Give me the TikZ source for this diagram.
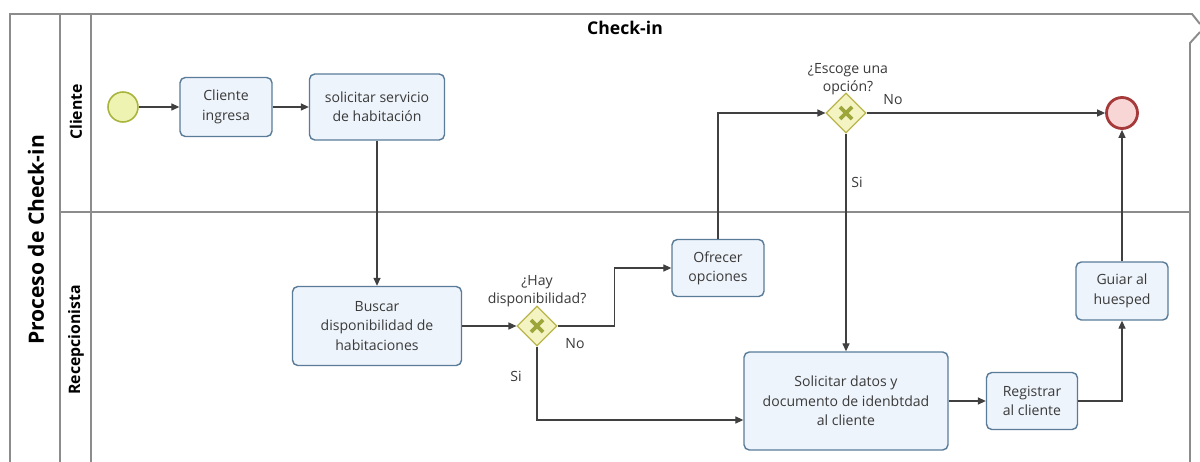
\documentclass[tikz,border=0pt]{standalone}
\usepackage{fontspec}
\setmainfont{Open Sans}
\usepackage{xcolor}
\usepackage{tikz}
\usetikzlibrary{arrows.meta,positioning,calc,shapes.geometric}
\definecolor{poolgray}{HTML}{8C8C8C}
\definecolor{flowgray}{HTML}{404040}
\definecolor{taskline}{HTML}{5A7C99}
\definecolor{taskfill}{HTML}{EEF4FB}
\definecolor{gwfill}{HTML}{F4F4C2}
\definecolor{gwline}{HTML}{B9B44C}
\definecolor{gwmark}{HTML}{9CA63A}
\definecolor{startfill}{HTML}{EEF3B2}
\definecolor{startline}{HTML}{A9B43C}
\definecolor{endfill}{HTML}{F9D6D6}
\definecolor{endline}{HTML}{A63A3A}
\definecolor{txtgray}{HTML}{3A3A3A}
\tikzset{
  task/.style={draw=taskline,fill=taskfill,rounded corners=3pt,line width=0.8pt,
    align=center,text=txtgray,font=\fontsize{8}{11}\selectfont,inner sep=2pt},
  gateway/.style={diamond,draw=gwline,fill=gwfill,line width=0.7pt,inner sep=0pt,
    minimum width=0.8cm,minimum height=0.8cm},
  flow/.style={draw=flowgray,line width=0.6pt,-{Triangle[length=4.5pt,width=4pt]}},
  lbl/.style={text=txtgray,font=\fontsize{8}{10}\selectfont,align=center},
  pool/.style={draw=poolgray,line width=1.1pt}
}

\begin{document}
\begin{tikzpicture}[x=0.02cm,y=-0.02cm]
  \useasboundingbox[fill=white] (0,0) rectangle (1200,462);
  % pool and lanes
  \draw[pool] (10,462) -- (10,14) -- (1192,14) -- (1200,24);
  \draw[pool] (1190,462) -- (1190,43) -- (1200,32);
  \draw[pool] (60,14) -- (60,462);
  \draw[pool] (91,14) -- (91,462);
  \draw[pool] (60,212) -- (1190,212);
  \node[rotate=90,font=\fontsize{12}{14}\selectfont\bfseries] (pooltitle) at (36,240) {Proceso de Check-in};
  \node[rotate=90,font=\fontsize{9}{11}\selectfont\bfseries] (laneclient) at (76,112) {Cliente};
  \node[rotate=90,font=\fontsize{9}{11}\selectfont\bfseries] (lanerecep) at (76,340) {Recepcionista};
  \node[font=\fontsize{10}{12}\selectfont\bfseries] (grouptitle) at (625,28) {Check-in};
  % events
  \node[circle,draw=startline,fill=startfill,line width=0.9pt,minimum size=0.6cm] (start) at (123,107) {};
  \node[circle,draw=endline,fill=endfill,line width=1.6pt,minimum size=0.62cm] (finish) at (1122,113) {};
  % tasks
  \node[task,minimum width=1.84cm,minimum height=1.18cm] (ingresa) at (226,107) {Cliente\\ingresa};
  \node[task,minimum width=2.7cm,minimum height=1.32cm] (servicio) at (377,107) {solicitar servicio\\de habitación};
  \node[task,minimum width=3.38cm,minimum height=1.58cm] (buscar) at (377,326) {Buscar\\disponibilidad de\\habitaciones};
  \node[task,minimum width=1.84cm,minimum height=1.14cm] (ofrecer) at (718,268) {Ofrecer\\opciones};
  \node[task,minimum width=4.08cm,minimum height=1.96cm] (datos) at (846,401) {Solicitar datos y\\documento de idenbtdad\\al cliente};
  \node[task,minimum width=1.82cm,minimum height=1.14cm] (registrar) at (1032,401) {Registrar\\al cliente};
  \node[task,minimum width=1.84cm,minimum height=1.16cm] (guiar) at (1122,291) {Guiar al\\huesped};
  % gateways
  \node[gateway] (gwhay) at (537,326) {};
  \node[gateway] (gwopc) at (846,113) {};
  \foreach \g in {gwhay,gwopc}{
    \draw[gwmark,line width=2.2pt] ($(\g)+(-6,-6)$) -- ($(\g)+(6,6)$);
    \draw[gwmark,line width=2.2pt] ($(\g)+(-6,6)$) -- ($(\g)+(6,-6)$);}
  \node[lbl] (qhay) at (537,291) {¿Hay\\disponibilidad?};
  \node[lbl] (qopc) at (848,79) {¿Escoge una\\opción?};
  % sequence flows
  \draw[flow] (start) -- (ingresa);
  \draw[flow] (ingresa) -- (servicio);
  \draw[flow] (servicio) -- (buscar);
  \draw[flow] (buscar) -- (gwhay);
  \draw[flow] (gwhay.east) -| ($(gwhay.east)!0.5!(ofrecer.west)$) |- (ofrecer.west);
  \draw[flow] (gwhay.south) |- ($(datos.west)+(0,19)$);
  \draw[flow] (ofrecer.north) |- (gwopc.west);
  \draw[flow] (gwopc.east) -- (finish.west);
  \draw[flow] (gwopc.south) -- (datos.north);
  \draw[flow] (datos.east) -- (registrar.west);
  \draw[flow] (registrar.east) -| (guiar.south);
  \draw[flow] (guiar.north) -- (finish.south);
  \node[lbl] (nohay) at (575,344) {No};
  \node[lbl] (sihay) at (516,376) {Si};
  \node[lbl] (noopc) at (893,100) {No};
  \node[lbl] (siopc) at (857,182) {Si};
\end{tikzpicture}
\end{document}
